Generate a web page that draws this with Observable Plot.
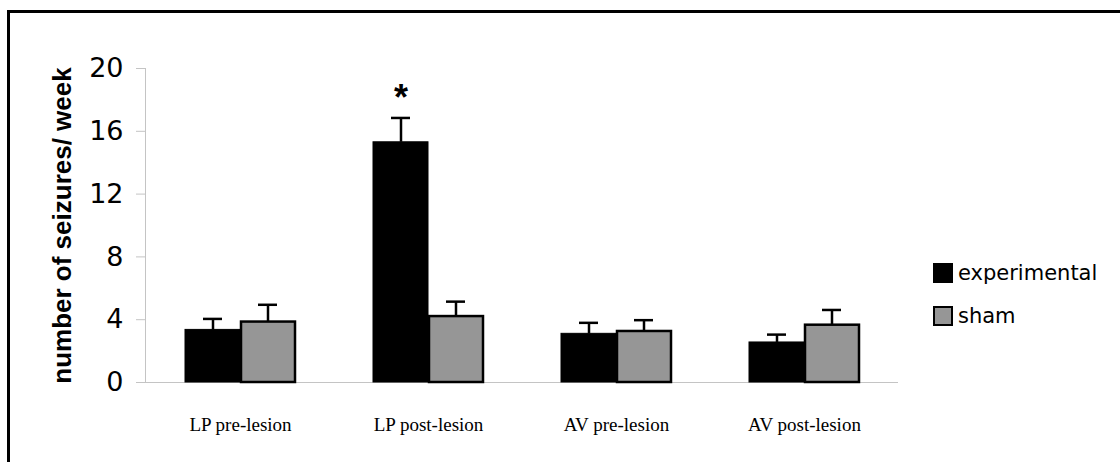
<!DOCTYPE html>
<html>
<head>
<meta charset="utf-8">
<script src="https://cdn.jsdelivr.net/npm/d3@7"></script>
<script src="https://cdn.jsdelivr.net/npm/@observablehq/plot@0.6"></script>
<style>
  html, body { margin: 0; padding: 0; background: #fff; overflow: hidden; }
  #wrap { position: relative; width: 1120px; height: 462px; overflow: hidden; font-family: "Liberation Sans", Arial, sans-serif; }
  #border { position: absolute; left: 7px; top: 10px; width: 1300px; height: 700px; border: 3px solid #000; box-sizing: border-box; }
  #chart { position: absolute; left: 0; top: 0; }
  .leg { position: absolute; left: 933px; display: flex; align-items: center; font-size: 21px; font-family: "DejaVu Sans", sans-serif; color: #000; }
  .sw { width: 20px; height: 20px; box-sizing: border-box; margin-right: 5px; }
</style>
</head>
<body>
<div id="wrap">
  <div id="border"></div>
  <div id="chart"></div>
  <div class="leg" style="top:261px"><div class="sw" style="background:#000;border:1px solid #000"></div><span>experimental</span></div>
  <div class="leg" style="top:304px"><div class="sw" style="background:#969696;border:2.5px solid #000"></div><span>sham</span></div>
</div>
<script>
const categories = ["LP pre-lesion", "LP post-lesion", "AV pre-lesion", "AV post-lesion"];
const experimental = [3.35, 15.3, 3.1, 2.55];
const experimentalErr = [0.7, 1.55, 0.7, 0.5];
const sham = [3.85, 4.2, 3.25, 3.65];
const shamErr = [1.1, 0.95, 0.72, 0.97];
const significant = ["LP post-lesion"];
const yTicks = [0, 4, 8, 12, 16, 20];
const yLabel = "number of seizures/ week";

const rows = categories.map((c, i) => ({
  category: c,
  exp: experimental[i], expErr: experimentalErr[i],
  sham: sham[i], shamErr: shamErr[i]
}));

const chart = Plot.plot({
  width: 1120,
  height: 462,
  marginLeft: 145,
  marginRight: 222,
  marginTop: 68,
  marginBottom: 80,
  style: { background: "transparent", color: "#000", fontFamily: "'Liberation Sans', Arial, sans-serif" },
  x: { type: "band", domain: categories, paddingInner: 0.416, paddingOuter: 0.208, axis: null },
  y: { domain: [0, 20], axis: null },
  marks: [
    Plot.ruleY([0], { stroke: "#c4c4c4", strokeWidth: 1 }),
    Plot.frame({ anchor: "left", stroke: "#c4c4c4", strokeWidth: 1 }),
    Plot.axisY({ ticks: yTicks, tickSize: 9, tickPadding: 13, fontSize: 27, fontFamily: "'DejaVu Sans', sans-serif", stroke: "#c4c4c4", fill: "#000", label: null }),
    Plot.axisX({ tickSize: 0, tickPadding: 35, fontSize: 19, fontFamily: "'Liberation Serif', 'Times New Roman', serif", fill: "#000", label: null }),
    Plot.text([yLabel], { frameAnchor: "left", textAnchor: "middle", dx: -83, rotate: -90, fontSize: 26, fontWeight: "bold", fill: "#000" }),
    Plot.barY(rows, { x: "category", y: "exp", fill: "#000", stroke: "#000", strokeWidth: 1, insetRight: 55 }),
    Plot.barY(rows, { x: "category", y: "sham", fill: "#969696", stroke: "#000", strokeWidth: 2.5, insetLeft: 56 }),
    Plot.ruleX(rows, { x: "category", y1: "exp", y2: d => d.exp + d.expErr, dx: -27.5, stroke: "#000", strokeWidth: 2.5 }),
    Plot.tickY(rows, { x: "category", y: d => d.exp + d.expErr, insetLeft: 18, insetRight: 73, stroke: "#000", strokeWidth: 2.5 }),
    Plot.ruleX(rows, { x: "category", y1: "sham", y2: d => d.sham + d.shamErr, dx: 27.5, stroke: "#000", strokeWidth: 2.5 }),
    Plot.tickY(rows, { x: "category", y: d => d.sham + d.shamErr, insetLeft: 73, insetRight: 18, stroke: "#000", strokeWidth: 2.5 }),
    Plot.text(rows.filter(d => significant.includes(d.category)), { x: "category", y: d => d.exp + d.expErr, text: () => "*", dx: -27.5, dy: -8, lineAnchor: "bottom", fontSize: 36, fontWeight: "bold", fill: "#000" })
  ]
});
document.getElementById("chart").appendChild(chart);
</script>
</body>
</html>
